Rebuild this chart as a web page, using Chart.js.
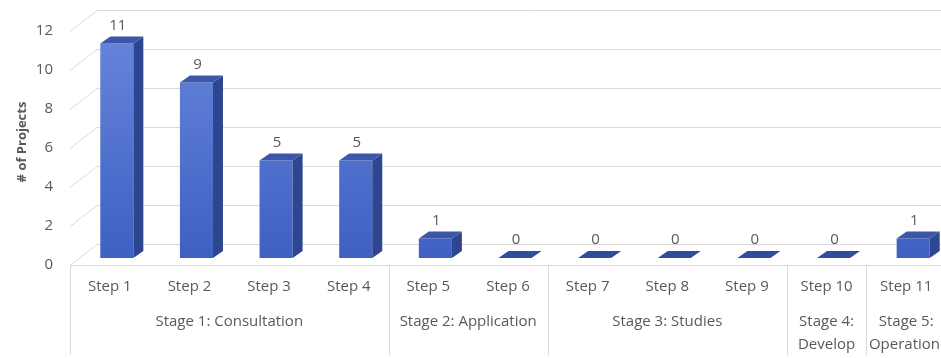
<!DOCTYPE html>
<html>
<head>
<meta charset="utf-8">
<script src="https://cdn.jsdelivr.net/npm/chart.js@4.4.1/dist/chart.umd.min.js"></script>
<style>
  html, body { margin: 0; padding: 0; background: #fff; overflow: hidden; }
  #wrap { width: 941px; height: 358px; overflow: hidden; }
</style>
</head>
<body>
<div id="wrap"><canvas id="chartSteps" width="960" height="358"></canvas></div>
<script>
// datos del gráfico
const steps = ['Step 1', 'Step 2', 'Step 3', 'Step 4', 'Step 5', 'Step 6', 'Step 7', 'Step 8', 'Step 9', 'Step 10', 'Step 11'];
const projects = [11, 9, 5, 5, 1, 0, 0, 0, 0, 0, 1];
const stageLabels = [['Stage 1: Consultation'], ['Stage 2: Application'], ['Stage 3: Studies'], ['Stage 4:', 'Develop'], ['Stage 5:', 'Operation']];
const stageSpans = [4, 2, 3, 1, 1];
const yTicks = [0, 2, 4, 6, 8, 10, 12];
const yTitle = '# of Projects';

// efecto 3D
const DX = 10, DY = -7;         // profundidad de la barra
const FX = -7, FY = 7;          // plano frontal (etiquetas)
const BX = 20, BY = -14;        // pared del fondo
const gridColor = '#d9d9d9';
const textColor = '#595959';
const font = "15px 'Open Sans'";

const bar3d = {
  id: 'bar3d',
  beforeDatasetsDraw(chart) {
    const ctx = chart.ctx;
    const xs = chart.scales.x, ys = chart.scales.y;
    const slot = (xs.right - xs.left) / steps.length;
    const right = chart.width;
    ctx.save();
    ctx.strokeStyle = gridColor;
    ctx.lineWidth = 1;
    // rejilla: pared del fondo + pared izquierda
    yTicks.forEach(v => {
      const y = Math.round(ys.getPixelForValue(v)) + 0.5;
      ctx.beginPath();
      ctx.moveTo(xs.left + FX, y + FY);
      ctx.lineTo(xs.left + BX, y + BY);
      ctx.lineTo(right, y + BY);
      ctx.stroke();
    });
    // borde frontal del suelo
    const y0 = Math.round(ys.getPixelForValue(0)) + FY + 0.5;
    ctx.beginPath();
    ctx.moveTo(xs.left + FX, y0);
    ctx.lineTo(right, y0);
    ctx.stroke();
    // separadores de etapas
    let k = 0;
    const bounds = [0];
    stageSpans.forEach(s => { k += s; bounds.push(k); });
    bounds.forEach(b => {
      const x = Math.round(xs.left + FX + b * slot) + 0.5;
      ctx.beginPath();
      ctx.moveTo(x, y0);
      ctx.lineTo(x, 355);
      ctx.stroke();
    });

    ctx.fillStyle = textColor;
    ctx.font = font;
    ctx.textBaseline = 'middle';
    // etiquetas eje Y
    ctx.textAlign = 'right';
    yTicks.forEach(v => {
      ctx.fillText(String(v), 53, ys.getPixelForValue(v) + FY);
    });
    // pasos
    ctx.textAlign = 'center';
    steps.forEach((s, i) => {
      ctx.fillText(s, xs.getPixelForValue(i) + FX, 287);
    });
    // etapas
    let start = 0;
    stageLabels.forEach((lines, j) => {
      const cx = xs.left + FX + (start + stageSpans[j] / 2) * slot;
      lines.forEach((t, n) => {
        let w = ctx.measureText(t).width;
        let x = Math.min(cx, 940 - w / 2);
        ctx.fillText(t, x, 322 + n * 23);
      });
      start += stageSpans[j];
    });
    // título eje Y
    ctx.save();
    ctx.translate(22, 142);
    ctx.rotate(-Math.PI / 2);
    ctx.font = "bold 13px 'Open Sans'";
    ctx.fillText(yTitle, 0, 0);
    ctx.restore();
    ctx.restore();
  },
  afterDatasetsDraw(chart) {
    const ctx = chart.ctx;
    const meta = chart.getDatasetMeta(0);
    ctx.save();
    meta.data.forEach((bar, i) => {
      const x0 = bar.x - bar.width / 2, x1 = bar.x + bar.width / 2;
      const yt = bar.y, yb = bar.base;
      // cara lateral
      if (yb - yt > 0.5) {
        ctx.fillStyle = '#2e4690';
        ctx.beginPath();
        ctx.moveTo(x1, yt);
        ctx.lineTo(x1 + DX, yt + DY);
        ctx.lineTo(x1 + DX, yb + DY);
        ctx.lineTo(x1, yb);
        ctx.closePath();
        ctx.fill();
      }
      // cara superior
      ctx.fillStyle = projects[i] === 0 ? '#2f4c9f' : '#3c57a9';
      ctx.beginPath();
      ctx.moveTo(x0, yt);
      ctx.lineTo(x1, yt);
      ctx.lineTo(x1 + DX, yt + DY);
      ctx.lineTo(x0 + DX, yt + DY);
      ctx.closePath();
      ctx.fill();
      // valor
      ctx.fillStyle = textColor;
      ctx.font = font;
      ctx.textAlign = 'center';
      ctx.textBaseline = 'middle';
      ctx.fillText(String(projects[i]), bar.x + 1, yt - 18);
    });
    ctx.restore();
  }
};

document.addEventListener('DOMContentLoaded', function() {
  const ctxSteps = document.getElementById('chartSteps').getContext('2d');
  new Chart(ctxSteps, {
    type: 'bar',
    data: {
      labels: steps,
      datasets: [{
        label: yTitle,
        data: projects,
        backgroundColor: function(c) {
          const area = c.chart.chartArea;
          if (!area) return '#4a6acb';
          const g = c.chart.ctx.createLinearGradient(0, area.top, 0, area.bottom);
          g.addColorStop(0, '#6786db');
          g.addColorStop(1, '#3f60c3');
          return g;
        },
        borderWidth: 0,
        barPercentage: 0.415,
        categoryPercentage: 1
      }]
    },
    options: {
      responsive: false,
      animation: false,
      layout: { padding: { left: 77, right: 7, top: 24, bottom: 100 } },
      plugins: { legend: { display: false }, tooltip: { enabled: false } },
      scales: {
        x: { display: false },
        y: { display: false, min: 0, max: 12 }
      }
    },
    plugins: [bar3d]
  });
});
</script>
</body>
</html>
